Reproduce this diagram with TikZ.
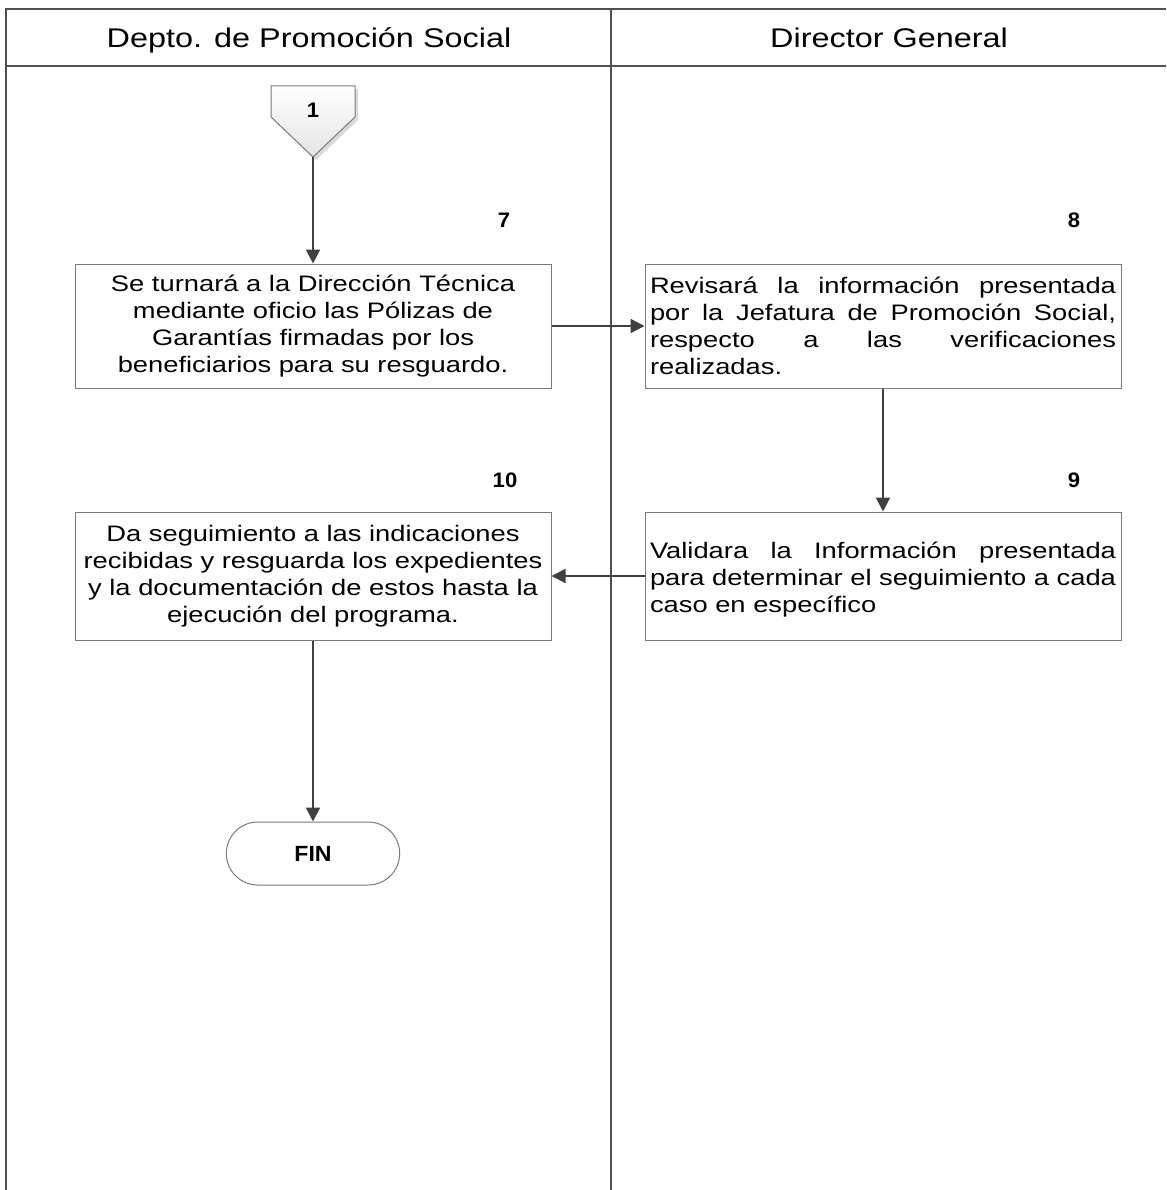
\documentclass[tikz,border=0pt]{standalone}
\usepackage{fontspec}
\setmainfont{Liberation Sans}
\newfontfamily\bodyfont[FakeStretch=1.22]{Liberation Sans}
\newfontfamily\headfont[FakeStretch=1.2]{Liberation Sans}
\newfontfamily\numfont[FakeStretch=1.05]{Liberation Sans}
\usetikzlibrary{arrows.meta,shapes.misc}

\definecolor{frameline}{HTML}{505050}
\definecolor{boxline}{HTML}{7A7A7A}
\definecolor{flowline}{HTML}{404040}
\definecolor{connfill}{HTML}{E4E4E4}

\tikzset{
  lane/.style={draw=frameline, line width=1.2pt},
  lanetitle/.style={font=\headfont\fontsize{27}{30}\selectfont, anchor=base},
  stepbox/.style={draw=boxline, line width=1pt, fill=white, minimum width=476pt,
    minimum height=124pt, inner xsep=5pt, align=center,
    font=\bodyfont\fontsize{22.4}{27}\selectfont},
  steptext/.style={inner sep=0pt, align=left, font=\bodyfont\fontsize{22.4}{27}\selectfont},
  stepnum/.style={font=\numfont\bfseries\fontsize{21}{24}\selectfont, anchor=center},
  flow/.style={draw=flowline, line width=2pt,
    -{Triangle[length=14pt,width=14pt]}},
  terminal/.style={draw=boxline, line width=1pt, rounded rectangle,
    minimum width=180pt, minimum height=63pt,
    font=\numfont\bfseries\fontsize{22}{25}\selectfont},
}

% justified and left-set lines of the right-hand boxes
\newcommand{\jline}[1]{\makebox[466pt][s]{#1}}
\newcommand{\lline}[1]{\makebox[466pt][l]{#1}}

\begin{document}
\begin{tikzpicture}[x=1pt,y=-1pt]
  \useasboundingbox (0,0) rectangle (1166,1190);

  % swimlane frame
  \draw[lane] (6,1190) -- (6,9) -- (1166,9);
  \draw[lane] (6,66) -- (1166,66);
  \draw[lane] (611,9) -- (611,1190);
  \node[lanetitle] (laneA) at (309,48) {Depto. de Promoción Social};
  \node[lanetitle] (laneB) at (889,48) {Director General};

  % off-page connector 1
  \fill[black!15] (274,89) -- (358,89) -- (358,120) -- (316,160) -- (274,120) -- cycle;
  \shade[top color=white, bottom color=connfill, draw=boxline, line width=1pt]
    (271,86) -- (355,86) -- (355,117) -- (313,157) -- (271,117) -- cycle;
  \coordinate (c1) at (313,157);
  \node[stepnum] (n1) at (313,110) {1};

  % steps
  \node[stepbox] (s7) at (313,326) {Se turnará a la Dirección Técnica\\
    mediante oficio las Pólizas de\\ Garantías firmadas por los\\
    beneficiarios para su resguardo.};
  \node[stepbox, align=left] (s8) at (883,326) {\jline{Revisará la información presentada}\\
    \jline{por la Jefatura de Promoción Social,}\\
    \jline{respecto a las verificaciones}\\
    \lline{realizadas.}};
  \node[stepbox, minimum height=128pt] (s9) at (883,576) {};
  \node[steptext] (s9t) at (883,580) {\jline{Validara la Información presentada}\\
    \jline{para determinar el seguimiento a cada}\\
    \lline{caso en específico}};
  \node[stepbox, minimum height=128pt] (s10) at (313,576) {Da seguimiento a las indicaciones\\
    recibidas y resguarda los expedientes\\ y la documentación de estos hasta la\\
    ejecución del programa.};
  \node[terminal] (fin) at (313,853.5) {FIN};

  % step numbers
  \node[stepnum] (l7) at (504,220) {7};
  \node[stepnum] (l8) at (1074,220) {8};
  \node[stepnum] (l9) at (1074,480) {9};
  \node[stepnum] (l10) at (505,480) {10};

  % flow
  \draw[flow] (c1) -- (s7.north);
  \draw[flow] (s7.east) -- (s8.west);
  \draw[flow] (s8.south) -- (s9.north);
  \draw[flow] (s9.west) -- (s10.east);
  \draw[flow] (s10.south) -- (fin.north);
\end{tikzpicture}
\end{document}
